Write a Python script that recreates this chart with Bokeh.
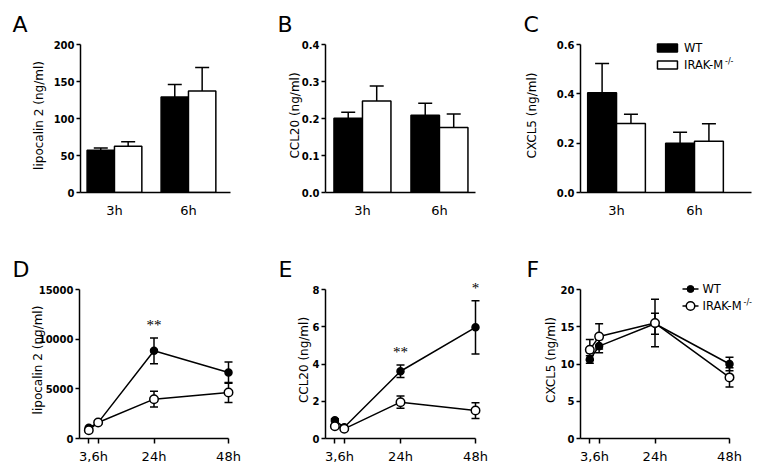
from bokeh.plotting import figure
from bokeh.models import (Range1d, FixedTicker, Whisker, TeeHead, ColumnDataSource,
                          Label, LabelSet, NumeralTickFormatter)
from bokeh.layouts import row, column
from bokeh.embed import file_html
from bokeh.resources import INLINE

# ---------------- data ----------------
bar_groups = ["3h", "6h"]
lcn2_bar_wt = [57, 129]
lcn2_bar_wt_err = [3, 17]
lcn2_bar_ko = [62.5, 137]
lcn2_bar_ko_err = [6, 32]
ccl20_bar_wt = [0.201, 0.209]
ccl20_bar_wt_err = [0.016, 0.032]
ccl20_bar_ko = [0.247, 0.176]
ccl20_bar_ko_err = [0.041, 0.036]
cxcl5_bar_wt = [0.404, 0.200]
cxcl5_bar_wt_err = [0.119, 0.044]
cxcl5_bar_ko = [0.280, 0.208]
cxcl5_bar_ko_err = [0.037, 0.071]

time_h = [3, 6, 24, 48]
lcn2_wt = [1070, 1600, 8830, 6640]
lcn2_wt_err = [150, 150, 1300, 1070]
lcn2_ko = [840, 1610, 3960, 4630]
lcn2_ko_err = [150, 150, 800, 1000]
ccl20_wt = [0.98, 0.60, 3.61, 5.97]
ccl20_wt_err = [0.08, 0.08, 0.33, 1.43]
ccl20_ko = [0.66, 0.52, 1.95, 1.50]
ccl20_ko_err = [0.08, 0.08, 0.33, 0.42]
cxcl5_wt = [10.6, 12.4, 15.4, 10.0]
cxcl5_wt_err = [0.5, 0.9, 1.4, 0.9]
cxcl5_ko = [11.9, 13.7, 15.5, 8.2]
cxcl5_ko_err = [1.4, 1.7, 3.2, 1.3]

time_tick_labels = {4.5: "3,6h", 24: "24h", 48: "48h"}
sig_D = {"x": [24], "text": ["**"]}
sig_E = {"x": [24, 48], "text": ["**", "*"]}

FONT = "DejaVu Sans"
LW = 1.5

# layout (page coordinates)
TOP_H, BOT_H = 238, 230
TOP_FRAME_TOP, TOP_FRAME_BOT, TOP_PLOT_H = 38, 192, 148
BOT_FRAME_TOP, BOT_FRAME_BOT, BOT_PLOT_H = 281 - 238, 438 - 238, 149


def base_fig(fig_w, fig_h, left, right, top, bottom, xr, yr, letter_txt, letter_off, letter_standoff):
    p = figure(width=fig_w, height=fig_h, x_range=Range1d(*xr), y_range=Range1d(*yr),
               output_backend="svg", toolbar_location=None,
               min_border_left=left, min_border_top=top,
               min_border_right=fig_w - right, min_border_bottom=fig_h - bottom)
    p.outline_line_color = None
    p.xgrid.visible = False
    p.ygrid.visible = False
    p.background_fill_color = "white"
    p.border_fill_color = "white"
    p.title.text = letter_txt
    p.title.align = "left"
    p.title.offset = letter_off
    p.title.standoff = letter_standoff
    p.title.text_font = FONT
    p.title.text_font_size = "22px"
    p.title.text_font_style = "normal"
    p.title.text_color = "black"
    for ax in (p.xaxis[0], p.yaxis[0]):
        ax.axis_line_color = "black"
        ax.axis_line_width = LW
        ax.major_tick_line_color = "black"
        ax.major_tick_line_width = LW
        ax.minor_tick_line_color = None
        ax.major_tick_in = 0
        ax.axis_label_text_font = FONT
        ax.axis_label_text_font_style = "normal"
        ax.axis_label_text_font_size = "12px"
        ax.axis_label_text_color = "black"
        ax.major_label_text_color = "black"
    ya = p.yaxis[0]
    ya.major_tick_out = 4
    ya.major_label_standoff = 2
    ya.major_label_text_font = FONT
    ya.major_label_text_font_style = "bold"
    ya.major_label_text_font_size = "10px"
    xa = p.xaxis[0]
    xa.major_label_text_font = FONT
    xa.major_label_text_font_size = "13px"
    return p


def bar_panel(fig_w, left, right, xr, ymax, yticks, fmt, ylabel, label_standoff,
              wt, wt_err, ko, ko_err, letter_txt, letter_off):
    y_end = ymax * (TOP_FRAME_BOT - TOP_FRAME_TOP) / TOP_PLOT_H
    p = base_fig(fig_w, TOP_H, left, right, TOP_FRAME_TOP, TOP_FRAME_BOT, xr, (0, y_end),
                 letter_txt, letter_off, 3)
    bw = 0.37
    idx = list(range(len(bar_groups)))
    x_wt = [i - bw / 2 for i in idx]
    x_ko = [i + bw / 2 for i in idx]
    p.vbar(x=x_wt, top=wt, width=bw, bottom=0, fill_color="black", line_color="black", line_width=LW)
    p.vbar(x=x_ko, top=ko, width=bw, bottom=0, fill_color="white", line_color="black", line_width=LW)
    for xs, v, e in ((x_wt, wt, wt_err), (x_ko, ko, ko_err)):
        src = ColumnDataSource(dict(x=xs, lower=v, upper=[a + b for a, b in zip(v, e)]))
        p.add_layout(Whisker(source=src, base="x", lower="lower", upper="upper",
                             dimension="height", line_color="black", line_width=LW,
                             upper_head=TeeHead(size=14, line_color="black", line_width=LW),
                             lower_head=None, level="glyph"))
    xa = p.xaxis[0]
    xa.ticker = FixedTicker(ticks=idx)
    xa.major_label_overrides = {i: g for i, g in zip(idx, bar_groups)}
    xa.major_tick_out = 0
    xa.major_label_standoff = 10
    ya = p.yaxis[0]
    ya.bounds = (0, ymax)
    ya.ticker = FixedTicker(ticks=yticks)
    if fmt:
        ya.formatter = NumeralTickFormatter(format=fmt)
    ya.axis_label = ylabel
    ya.axis_label_standoff = label_standoff
    return p


def line_panel(fig_w, left, w48, right, ymax, yticks, ylabel, label_standoff,
               wt, wt_err, ko, ko_err, letter_txt, letter_off):
    x_end = 48 * (right - left) / w48
    y_end = ymax * (BOT_FRAME_BOT - BOT_FRAME_TOP) / BOT_PLOT_H
    p = base_fig(fig_w, BOT_H, left, right, BOT_FRAME_TOP, BOT_FRAME_BOT, (0, x_end), (0, y_end),
                 letter_txt, letter_off, 0)
    for v, e in ((wt, wt_err), (ko, ko_err)):
        src = ColumnDataSource(dict(x=time_h, lower=[a - b for a, b in zip(v, e)],
                                    upper=[a + b for a, b in zip(v, e)]))
        p.add_layout(Whisker(source=src, base="x", lower="lower", upper="upper",
                             dimension="height", line_color="black", line_width=LW,
                             upper_head=TeeHead(size=8, line_color="black", line_width=LW),
                             lower_head=TeeHead(size=8, line_color="black", line_width=LW)))
    p.line(time_h, wt, line_color="black", line_width=LW)
    p.scatter(time_h, wt, size=7, marker="circle", fill_color="black", line_color="black", line_width=LW)
    p.line(time_h, ko, line_color="black", line_width=LW)
    p.scatter(time_h, ko, size=8.5, marker="circle", fill_color="white", line_color="black", line_width=LW)
    xa = p.xaxis[0]
    xa.bounds = (0, 48)
    xa.ticker = FixedTicker(ticks=list(time_tick_labels.keys()), minor_ticks=time_h)
    xa.major_label_overrides = dict(time_tick_labels)
    xa.major_tick_out = 0
    xa.minor_tick_out = 5
    xa.minor_tick_in = 0
    xa.minor_tick_line_color = "black"
    xa.minor_tick_line_width = LW
    xa.major_label_standoff = 5
    ya = p.yaxis[0]
    ya.bounds = (0, ymax)
    ya.ticker = FixedTicker(ticks=yticks)
    ya.axis_label = ylabel
    ya.axis_label_standoff = label_standoff
    return p


def add_sig(p, sig, vals, errs):
    top = [vals[time_h.index(x)] + errs[time_h.index(x)] for x in sig["x"]]
    src = ColumnDataSource(dict(x=sig["x"], y=top, text=sig["text"]))
    p.add_layout(LabelSet(source=src, x="x", y="y", text="text", y_offset=8,
                          text_font=FONT, text_font_size="15px", text_color="black",
                          text_align="center", text_baseline="alphabetic"))


def legend_text(p, frame_left, frame_bottom, items):
    for txt, px, py, fs in items:
        p.add_layout(Label(x=px - frame_left, y=frame_bottom - py, x_units="screen", y_units="screen",
                           text=txt, text_font=FONT, text_font_size=fs, text_color="black",
                           text_baseline="middle"))


# ---------------- top row ----------------
pA = bar_panel(258, 80, 230, (-0.459, 1.568), 200, [0, 50, 100, 150, 200], None,
               "lipocalin 2 (ng/ml)", 5, lcn2_bar_wt, lcn2_bar_wt_err, lcn2_bar_ko, lcn2_bar_ko_err,
               "A", -68)
pB = bar_panel(250, 67, 217, (-0.48, 1.468), 0.4, [0, 0.1, 0.2, 0.3, 0.4], "0.0",
               "CCL20 (ng/ml)", -3, ccl20_bar_wt, ccl20_bar_wt_err, ccl20_bar_ko, ccl20_bar_ko_err,
               "B", -48)
pC = bar_panel(258, 72, 243, (-0.462, 1.731), 0.6, [0, 0.2, 0.4, 0.6], "0.0",
               "CXCL5 (ng/ml)", 15, cxcl5_bar_wt, cxcl5_bar_wt_err, cxcl5_bar_ko, cxcl5_bar_ko_err,
               "C", -57)

# legend of C (page coords: frame left 580, 0 at y=192, 0.6 at y=44)
def c_xy(px, py):
    return (-0.462 + (px - 580) / 78.0, 0.6 * (192 - py) / 148.0)

lx, ly1 = c_xy(667, 47.5)
_, ly2 = c_xy(667, 64.5)
pC.rect(x=[lx], y=[ly1], width=20, height=8, width_units="screen", height_units="screen",
        fill_color="black", line_color="black", line_width=LW)
pC.rect(x=[lx], y=[ly2], width=20, height=8, width_units="screen", height_units="screen",
        fill_color="white", line_color="black", line_width=LW)
legend_text(pC, 580, 192, (("WT", 683.5, 47.5, "11.5px"), ("IRAK-M", 683.5, 64.5, "11.5px"),
                           ("-/-", 724.5, 60.5, "8px")))

# ---------------- bottom row ----------------
pD = line_panel(258, 79, 149, 240, 15000, [0, 5000, 10000, 15000],
                "lipocalin 2 (ng/ml)", -9, lcn2_wt, lcn2_wt_err, lcn2_ko, lcn2_ko_err, "D", -67)
add_sig(pD, sig_D, lcn2_wt, lcn2_wt_err)
pE = line_panel(250, 67, 150, 229, 8, [0, 2, 4, 6, 8],
                "CCL20 (ng/ml)", -1, ccl20_wt, ccl20_wt_err, ccl20_ko, ccl20_ko_err, "E", -47)
add_sig(pE, sig_E, ccl20_wt, ccl20_wt_err)
pF = line_panel(258, 72, 149, 252, 20, [0, 5, 10, 15, 20],
                "CXCL5 (ng/ml)", 0, cxcl5_wt, cxcl5_wt_err, cxcl5_ko, cxcl5_ko_err, "F", -54)

# legend of F (page coords: frame left 580, 0 at y=438, 20 at y=289, 48 h at x=729)
def f_xy(px, py):
    return ((px - 580) * 48 / 149.0, 20 * (438 - py) / 149.0)

fx0, fy1 = f_xy(682, 288.5)
fx1, _ = f_xy(698, 288.5)
fxm, fy2 = f_xy(690, 305.5)
pF.line([fx0, fx1], [fy1, fy1], line_color="black", line_width=LW)
pF.scatter([fxm], [fy1], size=7, marker="circle", fill_color="black", line_color="black")
pF.line([fx0, fx1], [fy2, fy2], line_color="black", line_width=LW)
pF.scatter([fxm], [fy2], size=8.5, marker="circle", fill_color="white", line_color="black", line_width=LW)
legend_text(pF, 580, 438, (("WT", 702, 288.5, "11.5px"), ("IRAK-M", 702, 305.5, "11.5px"),
                           ("-/-", 743, 301.5, "8px")))

layout = column(row(pA, pB, pC), row(pD, pE, pF))
open("out.html", "w").write(file_html(layout, INLINE))
